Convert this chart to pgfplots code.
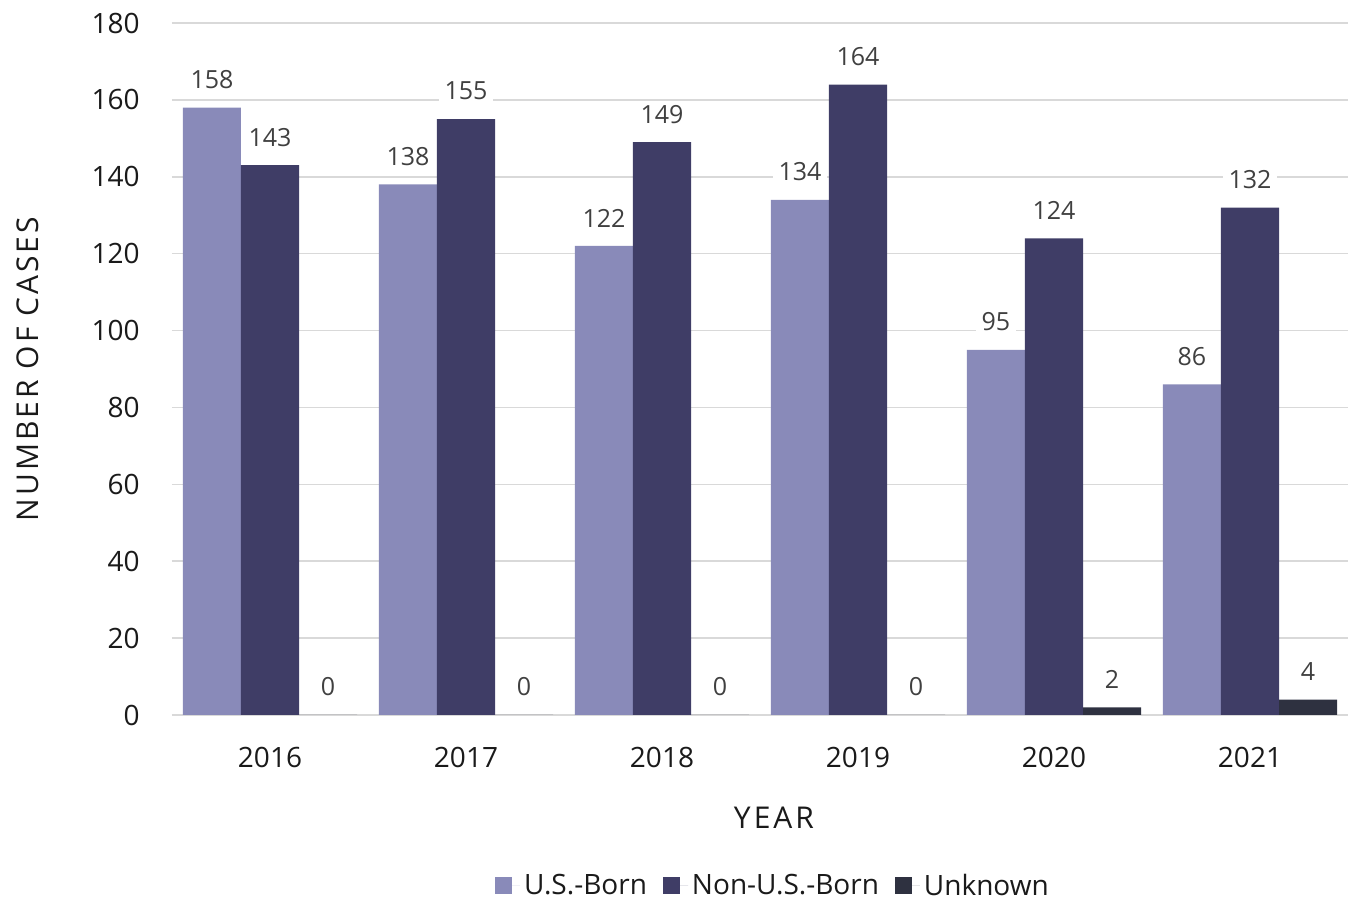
\documentclass[border=0pt]{standalone}
\usepackage{fontspec}
\setmainfont{Open Sans}
\usepackage{pgfplots}
\pgfplotsset{compat=1.18}
\definecolor{usborn}{HTML}{898AB9}
\definecolor{nonus}{HTML}{3F3D66}
\definecolor{unknown}{HTML}{2E3140}
\definecolor{gridgray}{HTML}{D9D9D9}
\definecolor{lbl}{HTML}{404040}
\definecolor{txt}{HTML}{1A1A1A}

\begin{document}
\begin{tikzpicture}
\begin{axis}[
  scale only axis, width=588pt, height=346pt,
  xmin=-0.5, xmax=5.5, ymin=0, ymax=180,
  ytick={0,20,...,180}, xtick={0,...,5},
  xticklabels={2016,2017,2018,2019,2020,2021},
  ymajorgrids, grid style={gridgray, line width=0.8pt},
  axis line style={draw=none},
  tick style={draw=none},
  /pgf/number format/assume math mode=true,
  ticklabel style={font=\fontsize{14}{17}\selectfont, text=txt, inner sep=0pt},
  yticklabel style={anchor=east, xshift=-16pt},
  xticklabel style={anchor=center, yshift=-17pt},
  ylabel={NUMBER OF CASES}, xlabel={YEAR},
  label style={font=\fontsize{15}{18}\selectfont\addfontfeature{LetterSpace=10}, text=txt},
  ylabel style={at={(axis description cs:-0.1224,0.5)}, anchor=center},
  xlabel style={at={(axis description cs:0.5119,-0.1488)}, anchor=center},
  ybar, bar width=0.296,
  enlarge x limits=false,
  nodes near coords,
  every node near coord/.append style={font=\fontsize{12.5}{15}\selectfont, text=lbl, fill=white, inner xsep=3pt, inner ysep=1pt, anchor=center, yshift=14pt},
  legend style={at={(axis description cs:0.5119,-0.2471)}, anchor=center, draw=none, legend columns=3,
    font=\fontsize{14}{17}\selectfont, text=txt, /tikz/every even column/.append style={column sep=6pt}},
  legend image code/.code={\fill[#1] (0pt,-4.25pt) rectangle (8.5pt,4.25pt); \path (0pt,0pt) -- (12.5pt,0pt);},
]
\addplot[fill=usborn, draw=none, bar shift=-0.296] coordinates {(0,158) (1,138) (2,122) (3,134) (4,95) (5,86)};
\addplot[fill=nonus, draw=none, bar shift=0] coordinates {(0,143) (1,155) (2,149) (3,164) (4,124) (5,132)};
\addplot[fill=unknown, draw=none, bar shift=0.296] coordinates {(0,0) (1,0) (2,0) (3,0) (4,2) (5,4)};
\legend{U.S.-Born, Non-U.S.-Born, Unknown}
\end{axis}
\useasboundingbox (-86pt,-93.5pt) rectangle (592pt,357.5pt);
\end{tikzpicture}
\end{document}
